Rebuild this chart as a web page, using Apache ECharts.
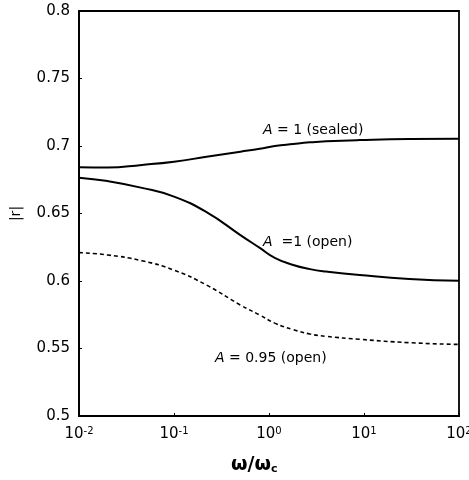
<!DOCTYPE html>
<html>
<head>
<meta charset="utf-8">
<script src="https://cdn.jsdelivr.net/npm/echarts@6/dist/echarts.min.js"></script>
<style>html,body{margin:0;padding:0;background:#fff;overflow:hidden}#c{width:469px;height:480px}</style>
</head>
<body>
<div id="c"></div>
<script>
const omega = [0.01, 0.02, 0.046, 0.1, 0.22, 0.5, 0.8, 1.15, 1.8, 2.7, 4, 9, 30, 100];
const sealed = [0.6842, 0.684, 0.686, 0.6884, 0.692, 0.6958, 0.698, 0.700, 0.7015, 0.7027, 0.7035, 0.7044, 0.7052, 0.7054];
const openA1 = [0.6765, 0.674, 0.669, 0.6625, 0.651, 0.634, 0.6245, 0.6172, 0.6118, 0.6088, 0.607, 0.6044, 0.6015, 0.6002];
const openA095 = [0.621, 0.6193, 0.615, 0.608, 0.597, 0.5822, 0.5748, 0.5688, 0.5640, 0.5607, 0.559, 0.5568, 0.5543, 0.553];
const yTicks = ['0.5', '0.55', '0.6', '0.65', '0.7', '0.75', '0.8'];
const xExponents = {0.01: '-2', 0.1: '-1', 1: '0', 10: '1', 100: '2'};

const pairs = arr => omega.map((w, i) => [w, arr[i]]);
const FONT = '"DejaVu Sans", Arial, sans-serif';

const chart = echarts.init(document.getElementById('c'), null, { width: 469, height: 480 });
const annRich = { a: { fontStyle: 'italic', fontFamily: FONT, fontSize: 14, fill: '#000' } };
chart.setOption({
  animation: false,
  backgroundColor: '#fff',
  grid: { left: 79, right: 10, top: 11, bottom: 64, show: true, borderColor: '#000', borderWidth: 1.8, containLabel: false, outerBoundsMode: 'none' },
  xAxis: {
    type: 'log', logBase: 10, min: 0.01, max: 100,
    axisLine: { lineStyle: { color: '#000', width: 1.8 } },
    axisTick: { inside: true, length: 3, lineStyle: { color: '#000' } },
    minorTick: { show: false },
    splitLine: { show: false },
    axisLabel: {
      margin: 10,
      formatter: v => { const e = xExponents[+v.toPrecision(3)]; return '{b|10}{s|' + (e !== undefined ? e : '') + '}'; },
      rich: {
        b: { fontFamily: FONT, fontSize: 15, color: '#000', verticalAlign: 'bottom', lineHeight: 16 },
        s: { fontFamily: FONT, fontSize: 10, color: '#000', verticalAlign: 'top', lineHeight: 16, padding: [0, 0, 8, 0] }
      }
    }
  },
  yAxis: {
    type: 'value', min: 0.5, max: 0.8, interval: 0.05,
    name: '|r|', nameLocation: 'middle', nameGap: 56, nameRotate: 90,
    nameTextStyle: { fontFamily: FONT, fontSize: 14, color: '#000' },
    axisLine: { show: true, lineStyle: { color: '#000', width: 1.8 } },
    axisTick: { show: true, inside: true, length: 3, lineStyle: { color: '#000' } },
    splitLine: { show: false },
    axisLabel: {
      margin: 9, fontFamily: FONT, fontSize: 15, color: '#000',
      formatter: v => yTicks.find(t => Math.abs(parseFloat(t) - v) < 1e-6) || ''
    }
  },
  series: [
    { type: 'line', data: pairs(sealed), smooth: true, showSymbol: false, lineStyle: { color: '#000', width: 2 } },
    { type: 'line', data: pairs(openA1), smooth: true, showSymbol: false, lineStyle: { color: '#000', width: 2 } },
    { type: 'line', data: pairs(openA095), smooth: true, showSymbol: false, lineStyle: { color: '#000', width: 1.6, type: [4, 3] } }
  ],
  graphic: [
    { type: 'text', left: 263, top: 123, style: { text: '{a|A} = 1 (sealed)', fill: '#000', font: '14px ' + FONT, rich: annRich } },
    { type: 'text', left: 263, top: 235, style: { text: '{a|A}  =1 (open)', fill: '#000', font: '14px ' + FONT, rich: annRich } },
    { type: 'text', left: 215, top: 351, style: { text: '{a|A} = 0.95 (open)', fill: '#000', font: '14px ' + FONT, rich: annRich } },
    { type: 'text', left: 231, top: 456, style: { text: 'ω/ω{s|c}', fill: '#000', font: 'bold 19px ' + FONT, rich: { s: { fontFamily: FONT, fontSize: 11, fontWeight: 'bold', fill: '#000', verticalAlign: 'bottom', padding: [8, 0, 0, 0] } } } }
  ]
});
</script>
</body>
</html>
